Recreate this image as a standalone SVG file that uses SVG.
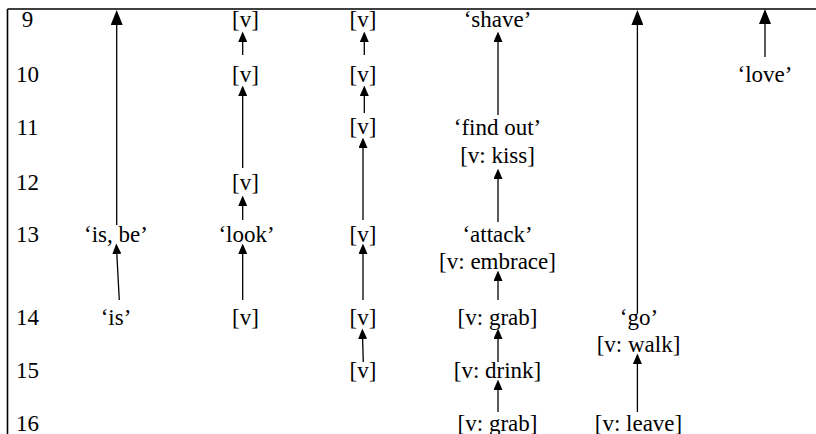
<svg xmlns="http://www.w3.org/2000/svg" width="816" height="434" viewBox="0 0 816 434">
  <defs>
    <style>
      .lbl { font-size: 23px; fill: #000; text-anchor: middle; }
      .frame { stroke: #000; stroke-width: 1.6; fill: none; }
      .edge { stroke: #000; stroke-width: 1.3; fill: none; }
      .big { marker-end: url(#headBig); }
      .small { marker-end: url(#headSmall); }
    </style>
    <marker id="headBig" markerUnits="userSpaceOnUse" markerWidth="15" markerHeight="12" refX="12" refY="6" orient="auto">
      <path d="M0,0 L15,6 L0,12 z" fill="#000"/>
    </marker>
    <marker id="headSmall" markerUnits="userSpaceOnUse" markerWidth="10.5" markerHeight="9" refX="8" refY="4.5" orient="auto">
      <path d="M0,0 L10.5,4.5 L0,9 z" fill="#000"/>
    </marker>
  </defs>

  <rect width="816" height="434" fill="#fff"/>

  <!-- table frame: top rule and left rule -->
  <g id="frame">
    <line class="frame" x1="7.5" y1="9" x2="816" y2="9"/>
    <line class="frame" x1="7.5" y1="9" x2="7.5" y2="434"/>
  </g>

  <g font-family="'Liberation Serif', 'Times New Roman', serif">
    <!-- row numbers -->
    <g id="rows">
      <text class="lbl" x="27.5" y="27">9</text>
      <text class="lbl" x="27.5" y="82">10</text>
      <text class="lbl" x="27.5" y="135">11</text>
      <text class="lbl" x="27.5" y="190">12</text>
      <text class="lbl" x="27.5" y="242">13</text>
      <text class="lbl" x="27.5" y="325">14</text>
      <text class="lbl" x="27.5" y="378">15</text>
      <text class="lbl" x="27.5" y="431">16</text>
    </g>

    <!-- column 1 -->
    <g id="c1-13"><text class="lbl" x="116" y="242">‘is, be’</text></g>
    <g id="c1-14"><text class="lbl" x="116" y="325">‘is’</text></g>

    <!-- column 2 -->
    <g id="c2-9"><text class="lbl" x="245.5" y="27">[v]</text></g>
    <g id="c2-10"><text class="lbl" x="245.5" y="82">[v]</text></g>
    <g id="c2-12"><text class="lbl" x="245.5" y="190">[v]</text></g>
    <g id="c2-13"><text class="lbl" x="246.5" y="242">‘look’</text></g>
    <g id="c2-14"><text class="lbl" x="245.5" y="325">[v]</text></g>

    <!-- column 3 -->
    <g id="c3-9"><text class="lbl" x="363" y="27">[v]</text></g>
    <g id="c3-10"><text class="lbl" x="363" y="82">[v]</text></g>
    <g id="c3-11"><text class="lbl" x="363" y="134">[v]</text></g>
    <g id="c3-13"><text class="lbl" x="363" y="242">[v]</text></g>
    <g id="c3-14"><text class="lbl" x="363" y="325">[v]</text></g>
    <g id="c3-15"><text class="lbl" x="363" y="378">[v]</text></g>

    <!-- column 4 -->
    <g id="c4-9"><text class="lbl" x="497.5" y="27">‘shave’</text></g>
    <g id="c4-11">
      <text class="lbl" x="497.5" y="135">‘find out’</text>
      <text class="lbl" x="497.5" y="163">[v: kiss]</text>
    </g>
    <g id="c4-13">
      <text class="lbl" x="497.5" y="242">‘attack’</text>
      <text class="lbl" x="497.5" y="269">[v: embrace]</text>
    </g>
    <g id="c4-14"><text class="lbl" x="497.5" y="325">[v: grab]</text></g>
    <g id="c4-15"><text class="lbl" x="497.5" y="378">[v: drink]</text></g>
    <g id="c4-16"><text class="lbl" x="497.5" y="431">[v: grab]</text></g>

    <!-- column 5 -->
    <g id="c5-14">
      <text class="lbl" x="639" y="325">‘go’</text>
      <text class="lbl" x="638.5" y="352">[v: walk]</text>
    </g>
    <g id="c5-16"><text class="lbl" x="638.5" y="431">[v: leave]</text></g>

    <!-- column 6 -->
    <g id="c6-10"><text class="lbl" x="765" y="82">‘love’</text></g>
  </g>

  <!-- connectors (all point upward) -->
  <g id="connectors">
    <line class="edge big" x1="116.7" y1="225" x2="116.7" y2="13"/>
    <line class="edge small" x1="119.3" y1="300" x2="116.4" y2="246"/>

    <line class="edge small" x1="242.7" y1="55" x2="242.7" y2="34"/>
    <line class="edge small" x1="242.7" y1="168" x2="242.7" y2="88"/>
    <line class="edge small" x1="242.7" y1="220" x2="242.7" y2="198"/>
    <line class="edge small" x1="242.7" y1="300" x2="242.7" y2="246"/>

    <line class="edge small" x1="364.3" y1="55" x2="364.3" y2="34"/>
    <line class="edge small" x1="364.3" y1="113" x2="364.3" y2="88"/>
    <line class="edge small" x1="363" y1="220" x2="363" y2="140"/>
    <line class="edge small" x1="363" y1="300" x2="363" y2="246"/>
    <line class="edge small" x1="363.3" y1="362" x2="362.4" y2="331"/>

    <line class="edge small" x1="498" y1="115" x2="498" y2="34"/>
    <line class="edge small" x1="498" y1="222" x2="498" y2="171"/>
    <line class="edge small" x1="498" y1="300" x2="498" y2="273"/>
    <line class="edge small" x1="498" y1="362" x2="498" y2="331"/>
    <line class="edge small" x1="498" y1="412" x2="498" y2="382"/>

    <line class="edge big" x1="637.4" y1="313" x2="637.4" y2="13"/>
    <line class="edge small" x1="637.4" y1="412" x2="637.4" y2="356"/>

    <line class="edge big" x1="765" y1="57" x2="765" y2="12"/>
  </g>
</svg>
